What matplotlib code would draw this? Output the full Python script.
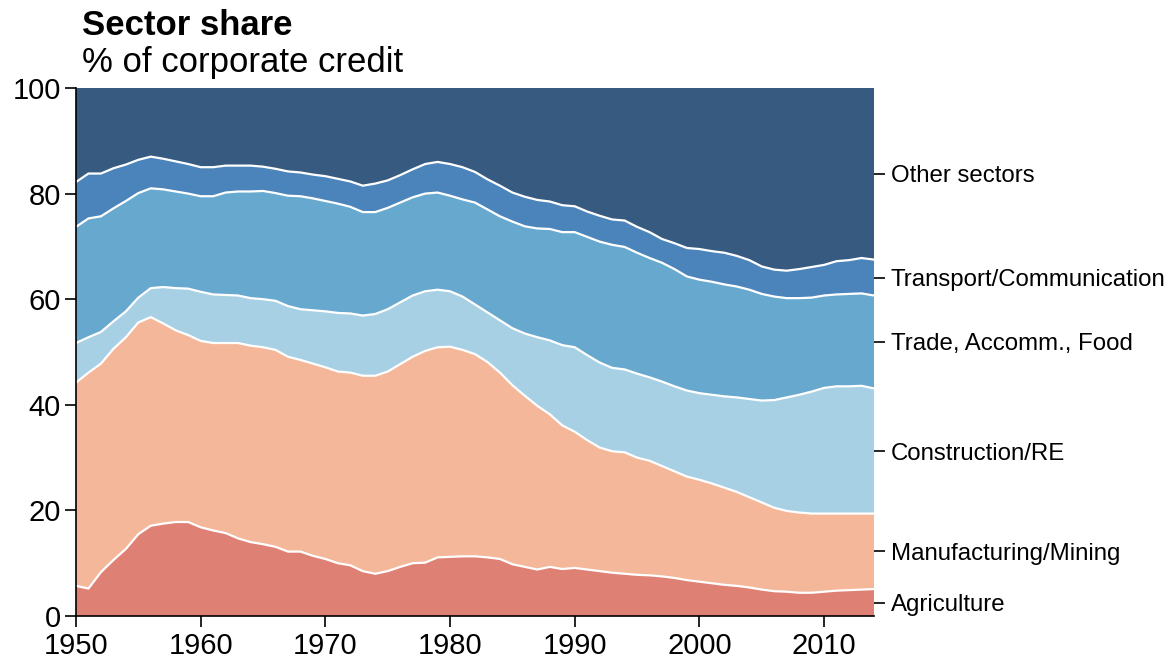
import numpy as np
import matplotlib
matplotlib.use("Agg")
import matplotlib.pyplot as plt

plt.rcParams['font.family'] = ['Liberation Sans', 'DejaVu Sans']

years = list(range(1950, 2015))

agriculture = [5.7, 5.2, 8.3, 10.6, 12.7, 15.5, 17.1, 17.5, 17.8, 17.8,
               16.8, 16.2, 15.7, 14.7, 14.0, 13.6, 13.1, 12.2, 12.2, 11.4,
               10.8, 10.0, 9.6, 8.5, 8.0, 8.5, 9.3, 10.0, 10.1, 11.1,
               11.2, 11.3, 11.3, 11.1, 10.8, 9.8, 9.3, 8.8, 9.3, 8.9,
               9.1, 8.8, 8.5, 8.2, 8.0, 7.8, 7.7, 7.5, 7.2, 6.8,
               6.5, 6.2, 5.9, 5.7, 5.4, 5.0, 4.7, 4.6, 4.4, 4.4,
               4.6, 4.8, 4.9, 5.0, 5.1]

manufacturing = [38.5, 40.9, 39.5, 40.0, 40.1, 40.1, 39.5, 37.9, 36.3, 35.4,
                 35.3, 35.5, 36.0, 37.0, 37.2, 37.3, 37.3, 36.9, 36.3, 36.4,
                 36.3, 36.3, 36.5, 37.0, 37.5, 37.8, 38.4, 39.1, 40.1, 39.8,
                 39.8, 39.1, 38.3, 37.0, 35.3, 33.9, 32.4, 31.0, 28.9, 27.2,
                 25.8, 24.5, 23.4, 23.0, 23.0, 22.2, 21.7, 20.9, 20.2, 19.6,
                 19.3, 18.9, 18.4, 17.8, 17.1, 16.5, 15.8, 15.3, 15.2, 15.0,
                 14.8, 14.6, 14.5, 14.4, 14.3]

construction = [7.5, 6.7, 6.0, 5.2, 4.9, 4.7, 5.5, 6.9, 8.0, 8.8,
                9.3, 9.2, 9.1, 9.0, 9.0, 9.1, 9.3, 9.6, 9.6, 10.1,
                10.6, 11.1, 11.2, 11.4, 11.7, 11.8, 11.7, 11.6, 11.3, 10.9,
                10.5, 10.1, 9.4, 9.4, 9.9, 10.8, 11.8, 13.0, 14.0, 15.2,
                16.0, 16.1, 16.1, 15.8, 15.7, 15.9, 15.8, 16.0, 16.1, 16.3,
                16.4, 16.8, 17.3, 17.9, 18.6, 19.3, 20.4, 21.5, 22.3, 23.1,
                23.8, 24.1, 24.1, 24.2, 23.7]

trade = [22.0, 22.5, 21.9, 21.4, 20.9, 19.8, 18.9, 18.5, 18.3, 18.0,
         18.1, 18.6, 19.4, 19.7, 20.2, 20.5, 20.4, 20.9, 21.4, 21.2,
         20.9, 20.7, 20.2, 19.6, 19.3, 19.2, 18.9, 18.6, 18.5, 18.4,
         18.1, 18.4, 19.3, 19.5, 19.7, 20.2, 20.3, 20.6, 21.1, 21.4,
         21.8, 22.4, 22.9, 23.3, 23.2, 22.9, 22.6, 22.5, 22.2, 21.6,
         21.5, 21.4, 21.2, 21.0, 20.7, 20.2, 19.6, 18.8, 18.3, 17.8,
         17.5, 17.4, 17.5, 17.5, 17.6]

transport = [8.5, 8.5, 8.1, 7.6, 6.9, 6.3, 6.0, 5.8, 5.7, 5.6,
             5.5, 5.5, 5.1, 4.9, 4.9, 4.6, 4.6, 4.6, 4.5, 4.5,
             4.7, 4.7, 4.8, 5.0, 5.4, 5.2, 5.2, 5.3, 5.6, 5.8,
             6.0, 6.1, 5.8, 5.7, 5.8, 5.5, 5.6, 5.4, 5.2, 5.1,
             4.9, 4.8, 4.9, 4.8, 5.0, 4.9, 4.9, 4.5, 4.9, 5.4,
             5.8, 5.8, 6.0, 5.8, 5.6, 5.2, 5.1, 5.2, 5.5, 5.8,
             5.8, 6.3, 6.4, 6.7, 6.8]

other = [17.8, 16.2, 16.2, 15.2, 14.5, 13.6, 13.0, 13.4, 13.9, 14.4,
         15.0, 15.0, 14.7, 14.7, 14.7, 14.9, 15.3, 15.8, 16.0, 16.4,
         16.7, 17.2, 17.7, 18.5, 18.1, 17.5, 16.5, 15.4, 14.4, 14.0,
         14.4, 15.0, 15.9, 17.3, 18.5, 19.8, 20.6, 21.2, 21.5, 22.2,
         22.4, 23.4, 24.2, 24.9, 25.1, 26.3, 27.3, 28.6, 29.4, 30.3,
         30.5, 30.9, 31.2, 31.8, 32.6, 33.8, 34.4, 34.6, 34.3, 33.9,
         33.5, 32.8, 32.6, 32.2, 32.5]

sector_names = ["Agriculture", "Manufacturing/Mining", "Construction/RE",
                "Trade, Accomm., Food", "Transport/Communication", "Other sectors"]
sector_colors = ["#de8073", "#f5b799", "#a8d0e4", "#67a8cf", "#4a84bb", "#375a80"]

series = [agriculture, manufacturing, construction, trade, transport, other]

fig = plt.figure(figsize=(11.74, 6.62), dpi=100)
ax = fig.add_axes([76/1174, 1-616/662, (874-76)/1174, (616-88)/662])

x = np.array(years)
data = np.array(series)
ax.stackplot(x, data, colors=sector_colors, linewidth=0)
cum = np.cumsum(data, axis=0)
for i in range(len(series) - 1):
    ax.plot(x, cum[i], color="white", linewidth=1.6, solid_joinstyle="round")

ax.set_xlim(1950, 2014)
ax.set_ylim(0, 100)
ax.set_xticks([1950, 1960, 1970, 1980, 1990, 2000, 2010])
ax.set_yticks([0, 20, 40, 60, 80, 100])
ax.tick_params(axis="y", labelsize=21, length=8, width=1.2, direction="out", pad=3)
ax.tick_params(axis="x", labelsize=21, length=8, width=1.2, direction="out", pad=3.5)
for s in ["top", "right"]:
    ax.spines[s].set_visible(False)
for s in ["left", "bottom"]:
    ax.spines[s].set_linewidth(1.2)

# right-hand labels at band midpoints in final year
lower = np.vstack([np.zeros(len(years)), cum[:-1]])
mids = (lower[:, -1] + cum[:, -1]) / 2
ax2 = ax.twinx()
ax2.set_ylim(0, 100)
ax2.set_yticks(mids)
ax2.set_yticklabels(sector_names)
ax2.tick_params(axis="y", labelsize=17.3, length=8, width=1.2, pad=4)
for s in ["top", "left", "bottom", "right"]:
    ax2.spines[s].set_visible(False)

fig.text(82/1174, 1-35/662, "Sector share", fontsize=25, fontweight="bold", ha="left", va="baseline")
fig.text(82/1174, 1-72/662, "% of corporate credit", fontsize=25, ha="left", va="baseline")

fig.savefig("out.png", dpi=100)
